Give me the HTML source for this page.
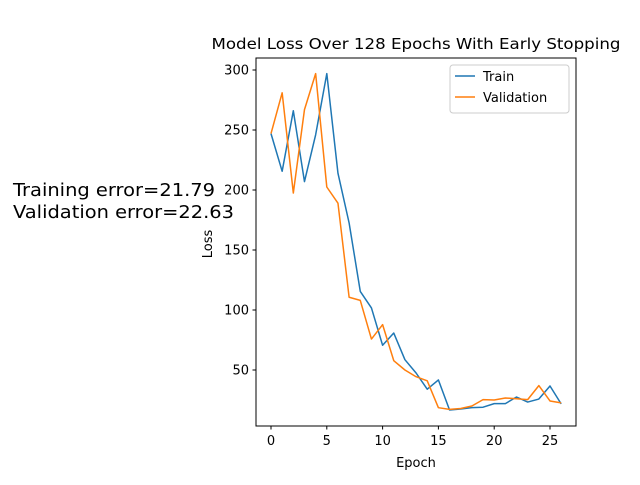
<!DOCTYPE html>
<html><head><meta charset="utf-8"><style>
body{margin:0;background:#fff;}
svg{font-family:"DejaVu Sans","Liberation Sans",sans-serif;}
</style></head><body>
<svg id="chart" width="640" height="480">
<text x="416" y="49" font-size="15.5" text-anchor="middle" textLength="409" lengthAdjust="spacingAndGlyphs">Model Loss Over 128 Epochs With Early Stopping</text>
<text x="13" y="196" font-size="18" textLength="202" lengthAdjust="spacingAndGlyphs">Training error=21.79</text>
<text x="13" y="218" font-size="18" textLength="221" lengthAdjust="spacingAndGlyphs">Validation error=22.63</text>
<g id="xt"></g><g id="yt"></g><g id="lines"></g>
<rect x="256" y="58" width="320" height="368" fill="none" stroke="#000" stroke-width="1"/>
<text x="416" y="467" font-size="13" text-anchor="middle">Epoch</text>
<text x="212" y="244" font-size="13" text-anchor="middle" transform="rotate(-90 212 244)">Loss</text>
<g>
<rect x="450" y="65" width="119" height="48" rx="3" fill="#fff" stroke="#ccc"/>
<line x1="455" y1="76" x2="475" y2="76" stroke="#1f77b4" stroke-width="1.5"/>
<text x="483" y="81" font-size="13">Train</text>
<line x1="455" y1="97" x2="475" y2="97" stroke="#ff7f0e" stroke-width="1.5"/>
<text x="483" y="102" font-size="13">Validation</text>
</g>
</svg>
<script>
const train=[247,215.6,266,207,246,297,214,172.5,115.5,101.7,70.6,80.8,58.6,47.5,34,41.7,16.7,17.5,18.6,19,22,22,27.5,23.3,25.8,36.7,21.79];
const validation=[247,281,197.5,267,297,202.5,189,110.6,108,75.8,87.8,57.8,50,44.4,41,18.6,17.2,17.9,20,25.3,25,26.7,26,25.3,37,24.2,22.63];
const xTicks=[0,5,10,15,20,25];
const yTicks=[50,100,150,200,250,300];
const NS="http://www.w3.org/2000/svg";
function xs(v){return 271+v*(550-271)/25;}
function ys(v){return 430-v*1.2;}
const xt=document.getElementById('xt'),yt=document.getElementById('yt'),lg=document.getElementById('lines');
xTicks.forEach(t=>{
 const l=document.createElementNS(NS,'line');
 
 
 l.setAttribute('x1',xs(t));l.setAttribute('x2',xs(t));l.setAttribute('y1',426);l.setAttribute('y2',429.5);l.setAttribute('stroke','#000');
 xt.appendChild(l);
 const s=document.createElementNS(NS,'text');
 
 
 s.setAttribute('x',xs(t));s.setAttribute('y',445);s.setAttribute('font-size','13');s.setAttribute('text-anchor','middle');
 s.textContent=t;xt.appendChild(s);
});
yTicks.forEach(t=>{
 const l=document.createElementNS(NS,'line');
 
 
 l.setAttribute('x1',252.5);l.setAttribute('x2',256);l.setAttribute('y1',ys(t));l.setAttribute('y2',ys(t));l.setAttribute('stroke','#000');
 yt.appendChild(l);
 const s=document.createElementNS(NS,'text');
 
 
 s.setAttribute('x',249);s.setAttribute('y',ys(t)+4.5);s.setAttribute('font-size','13');s.setAttribute('text-anchor','end');
 s.textContent=t;yt.appendChild(s);
});
function drawLine(arr,color,name){
 const p=document.createElementNS(NS,'polyline');
 
 
 p.setAttribute('points',arr.map((v,i)=>xs(i)+','+ys(v)).join(' '));
 p.setAttribute('fill','none');p.setAttribute('stroke',color);p.setAttribute('stroke-width','1.5');p.setAttribute('stroke-linejoin','round');
 lg.appendChild(p);
}
drawLine(train,'#1f77b4','train-line');
drawLine(validation,'#ff7f0e','validation-line');
</script>
</body></html>
